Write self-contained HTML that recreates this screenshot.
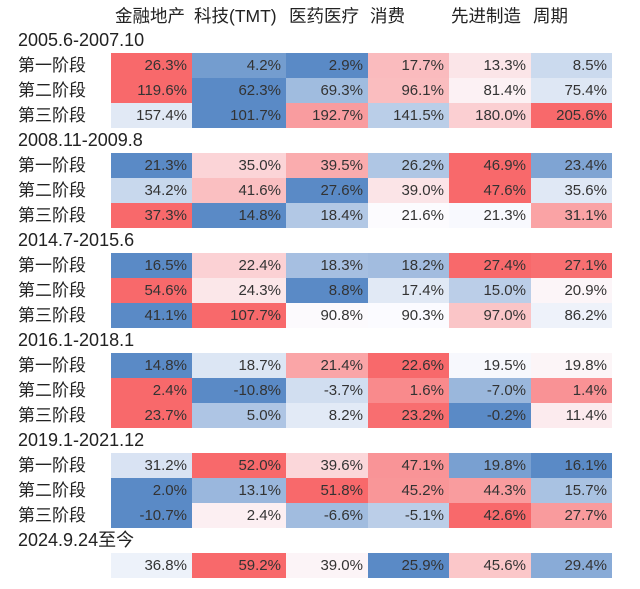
<!DOCTYPE html>
<html><head><meta charset="utf-8"><style>
body{margin:0;width:640px;height:589px;background:#fff;font-family:"Liberation Sans","Noto Sans CJK SC",sans-serif;color:#222;position:relative;overflow:hidden}
.t{position:absolute;font-size:17px;line-height:25px;white-space:nowrap}
.p{font-size:18px}
.c{position:absolute;height:25px;line-height:25px;font-size:15px;text-align:right;box-sizing:border-box;padding-right:5px;color:#333}
</style></head><body>
<div id="root"></div>
<script>
const columns=["金融地产","科技(TMT)","医药医疗","消费","先进制造","周期"];
const periods=["2005.6-2007.10","2008.11-2009.8","2014.7-2015.6","2016.1-2018.1","2019.1-2021.12","2024.9.24至今"];
const stages=["第一阶段","第二阶段","第三阶段"];
const p1=[[26.3,4.2,2.9,17.7,13.3,8.5],[119.6,62.3,69.3,96.1,81.4,75.4],[157.4,101.7,192.7,141.5,180.0,205.6]];
const p2=[[21.3,35.0,39.5,26.2,46.9,23.4],[34.2,41.6,27.6,39.0,47.6,35.6],[37.3,14.8,18.4,21.6,21.3,31.1]];
const p3=[[16.5,22.4,18.3,18.2,27.4,27.1],[54.6,24.3,8.8,17.4,15.0,20.9],[41.1,107.7,90.8,90.3,97.0,86.2]];
const p4=[[14.8,18.7,21.4,22.6,19.5,19.8],[2.4,-10.8,-3.7,1.6,-7.0,1.4],[23.7,5.0,8.2,23.2,-0.2,11.4]];
const p5=[[31.2,52.0,39.6,47.1,19.8,16.1],[2.0,13.1,51.8,45.2,44.3,15.7],[-10.7,2.4,-6.6,-5.1,42.6,27.7]];
const p6=[[36.8,59.2,39.0,25.9,45.6,29.4]];
const blocks=[p1,p2,p3,p4,p5,p6];
const colX=[111,192,286,368,449,531,612];
const root=document.getElementById('root');
function mk(cls,x,y,w,txt){const d=document.createElement('div');d.className=cls;d.style.left=x+'px';d.style.top=y+'px';if(w)d.style.width=w+'px';d.textContent=txt;root.appendChild(d);return d;}
const hx=[115,194,289,370,451,533];
columns.forEach((c,i)=>{const d=mk('t',hx[i],4,0,c);
d.style.fontSize='17.5px';

});
function lerp(a,b,t){return a.map((v,i)=>Math.round(v+(b[i]-v)*t));}
const B=[90,138,198],W=[252,252,255],R=[248,105,107];
function color(v,row){const s=[...row].sort((a,b)=>a-b);const mn=s[0],mx=s[s.length-1];
const med=(s[2]+s[3])/2;let c;
if(v<=med)c=lerp(B,W,med===mn?1:(v-mn)/(med-mn));else c=lerp(W,R,(v-med)/(mx-med));
return 'rgb('+c.join(',')+')';}
blocks.forEach((blk,bi)=>{const y0=28+bi*100;
const pl=mk('t p',18,y0,0,periods[bi]);


blk.forEach((row,ri)=>{const y=y0+25+ri*25;
if(bi<5){const sl=mk('t',18,y,0,stages[ri]);

}
row.forEach((v,ci)=>{const d=mk('c',colX[ci],y,colX[ci+1]-colX[ci],v.toFixed(1)+'%');
d.style.background=color(v,row);

});});});
</script>
</body></html>
